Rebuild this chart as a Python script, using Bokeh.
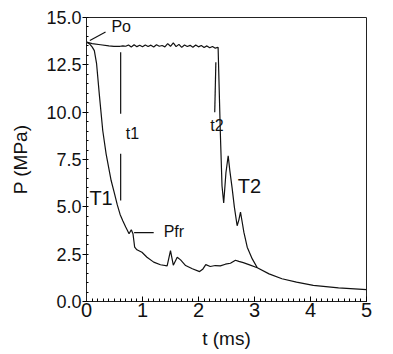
from bokeh.plotting import figure
from bokeh.models import Range1d, FixedTicker, CustomJSTickFormatter
from bokeh.core.properties import value
from bokeh.embed import file_html
from bokeh.resources import INLINE

# Curve T1 (fast decay) incl. common tail
t1_t = [0.00, 0.05, 0.10, 0.14, 0.18, 0.23, 0.29, 0.35, 0.44, 0.50, 0.55, 0.60,
        0.65, 0.70, 0.76, 0.80, 0.83, 0.86, 0.90, 0.99, 1.08, 1.20, 1.32, 1.44,
        1.50, 1.55, 1.62, 1.68, 1.77, 1.89, 2.02, 2.08, 2.13, 2.21, 2.30, 2.39,
        2.48, 2.57, 2.66, 2.72, 2.80, 2.90, 3.05, 3.26, 3.49, 3.75, 4.05, 4.50, 5.00]
t1_p = [13.70, 13.62, 13.45, 13.25, 12.56, 10.90, 9.03, 7.80, 6.39, 5.70, 5.10, 4.60,
        4.25, 3.93, 3.58, 3.79, 3.58, 2.87, 2.73, 2.60, 2.34, 2.08, 1.94, 1.88,
        2.69, 1.92, 2.34, 2.20, 1.90, 1.73, 1.58, 1.72, 1.95, 1.85, 1.90, 1.88,
        1.97, 2.02, 2.18, 2.12, 2.05, 1.95, 1.78, 1.46, 1.20, 1.02, 0.85, 0.72, 0.63]

# Curve T2 (plateau then delayed drop)
t2_t = [0.00, 0.10, 0.25, 0.40, 0.49, 0.60,
        0.65, 0.70, 0.75, 0.80, 0.85, 0.90, 0.95, 1.00, 1.05, 1.10, 1.15, 1.20,
        1.25, 1.30, 1.35, 1.40, 1.45, 1.50, 1.55, 1.60, 1.65, 1.70, 1.75, 1.80,
        1.85, 1.90, 1.95, 2.00, 2.05, 2.10, 2.15, 2.20, 2.25, 2.30,
        2.35, 2.39, 2.42, 2.45, 2.49, 2.53, 2.56, 2.60, 2.64, 2.69, 2.72, 2.75,
        2.78, 2.81, 2.87, 2.96, 3.05]
t2_p = [13.70, 13.62, 13.56, 13.50, 13.47, 13.48,
        13.50, 13.48, 13.55, 13.44, 13.56, 13.46, 13.53, 13.45, 13.55, 13.47, 13.54, 13.44,
        13.56, 13.48, 13.52, 13.45, 13.62, 13.48, 13.66, 13.46, 13.58, 13.42, 13.55, 13.47,
        13.53, 13.43, 13.55, 13.45, 13.52, 13.42, 13.50, 13.40, 13.47, 13.38,
        13.43, 8.90, 6.10, 5.20, 6.80, 7.70, 6.90, 6.00, 5.00, 4.00, 4.30, 4.72,
        4.20, 3.66, 2.87, 2.25, 1.78]

x_ticks = [0, 1, 2, 3, 4, 5]
y_ticks = [0.0, 2.5, 5.0, 7.5, 10.0, 12.5, 15.0]

FONT = "Liberation Sans"
INK = "#111111"

p = figure(width=393, height=354, output_backend="svg", toolbar_location=None,
           x_range=Range1d(0, 5), y_range=Range1d(0, 15))
p.min_border_left = 86
p.min_border_right = 27
p.min_border_top = 17
p.min_border_bottom = 53
p.background_fill_color = "white"
p.border_fill_color = "white"
p.outline_line_color = "#222222"
p.outline_line_width = 1
p.xgrid.visible = False
p.ygrid.visible = False

p.line(t1_t, t1_p, line_color=INK, line_width=1.2)
p.line(t2_t, t2_p, line_color=INK, line_width=1.2)

# marker lines
p.segment(x0=[0.61, 0.61, 2.31, 0.85, 0.06], y0=[13.17, 7.80, 12.64, 3.64, 13.79],
          x1=[0.61, 0.61, 2.29, 1.20, 0.34], y1=[9.92, 5.34, 10.00, 3.64, 14.23],
          line_color=INK, line_width=1.2)

# annotations
p.text(x=[0.82, 2.33], y=[8.85, 9.3], text=["t1", "t2"],
       text_font=value(FONT), text_font_size="16px", text_align="center",
       text_baseline="middle", text_color=INK)
p.text(x=[0.26, 2.91], y=[5.45, 6.08], text=["T1", "T2"],
       text_font=value(FONT), text_font_size="20px", text_align="center",
       text_baseline="middle", text_color=INK)
p.text(x=[1.56, 0.62], y=[3.70, 14.55], text=["Pfr", "Po"],
       text_font=value(FONT), text_font_size="16px", text_align="center",
       text_baseline="middle", text_color=INK)

xa = p.xaxis[0]
xa.ticker = FixedTicker(ticks=x_ticks, minor_ticks=[i / 10 for i in range(51)])
xa.axis_label = "t (ms)"
xa.axis_label_text_font = FONT
xa.axis_label_text_font_style = "normal"
xa.axis_label_text_font_size = "19px"
xa.axis_label_text_color = INK
xa.axis_label_standoff = 8
xa.major_label_text_font = FONT
xa.major_label_text_font_size = "20px"
xa.major_label_standoff = 1
xa.major_tick_in = 5
xa.major_tick_out = 0
xa.minor_tick_in = 3
xa.minor_tick_out = 0
xa.axis_line_color = "#222222"
xa.major_label_text_color = INK

ya = p.yaxis[0]
ya.ticker = FixedTicker(ticks=y_ticks, minor_ticks=[i * 0.5 for i in range(31)])
ya.formatter = CustomJSTickFormatter(code="return tick.toFixed(1);")
ya.axis_label = "P (MPa)"
ya.axis_label_text_font = FONT
ya.axis_label_text_font_style = "normal"
ya.axis_label_text_font_size = "19px"
ya.axis_label_text_color = INK
ya.axis_label_standoff = 12
ya.major_label_text_font = FONT
ya.major_label_text_font_size = "18px"
ya.major_label_standoff = 1
ya.major_tick_in = 0
ya.major_tick_out = 4
ya.minor_tick_in = 2
ya.minor_tick_out = 0
ya.axis_line_color = "#222222"
ya.major_label_text_color = INK

open("out.html", "w").write(file_html(p, INLINE))
